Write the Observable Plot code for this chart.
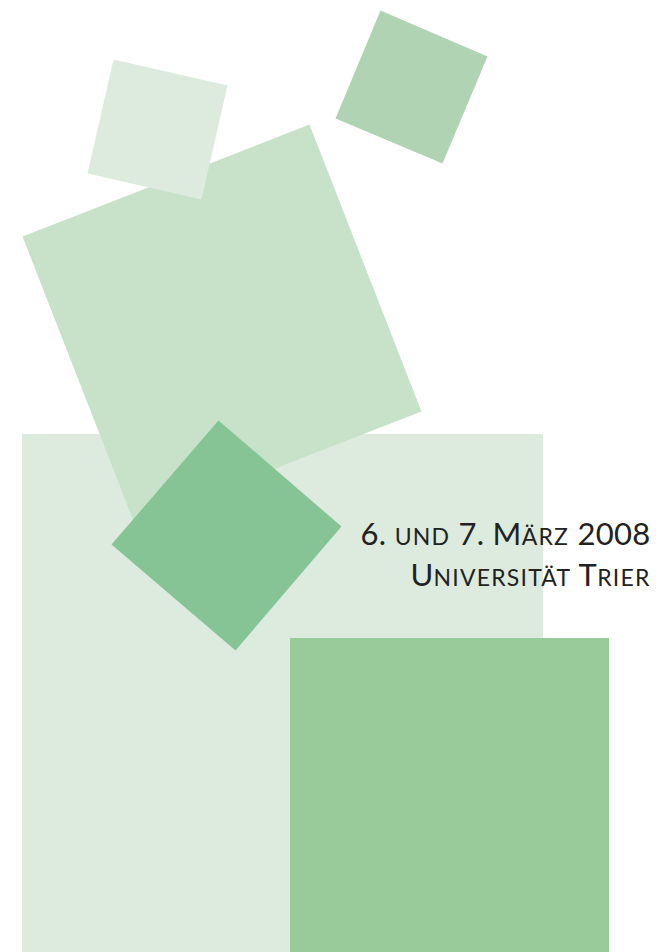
<!DOCTYPE html>
<html>
<head>
<meta charset="utf-8">
<script src="https://cdn.jsdelivr.net/npm/d3@7"></script>
<script src="https://cdn.jsdelivr.net/npm/@observablehq/plot@0.6"></script>
<style>
  html, body { margin: 0; padding: 0; background: #ffffff; }
  svg { display: block; }
</style>
</head>
<body>
<script>
// Axis-aligned rectangles
const rectNames  = ["hell", "dunkel"];
const rectX1     = [22, 290];
const rectX2     = [543, 609];
const rectY1     = [434, 638];
const rectY2     = [952, 952];
const rectColors = ["#DDEBDF", "#99CB9A"];

// Rotated squares: corner points
const squareNames  = ["gross", "klein", "mittel", "raute"];
const squareXs = [
  [22, 309, 421, 134],
  [113, 227, 201, 87],
  [380, 487, 442, 335],
  [218, 341, 235, 111]
];
const squareYs = [
  [236, 124, 411, 523],
  [59, 85, 199, 173],
  [10, 56, 163, 118],
  [420, 526, 650, 544]
];
const squareColors = ["#C7E2C9", "#DDEBDF", "#B0D4B3", "#86C496"];

// Text lines
const textLines = ["6. und 7. März 2008", "Universität Trier"];
const textYs = [535, 576];

const rects = rectNames.map((n, i) => ({name: n, x1: rectX1[i], x2: rectX2[i], y1: rectY1[i], y2: rectY2[i], fill: rectColors[i]}));
const squarePts = (i) => squareXs[i].map((x, j) => ({x, y: squareYs[i][j]}));
const texts = textLines.map((t, i) => ({t, y: textYs[i], x: 650}));

const capSize = 31, smallSize = 23;

const chart = Plot.plot({
  width: 656,
  height: 952,
  margin: 0,
  x: {domain: [0, 656], range: [0, 656], axis: null},
  y: {domain: [0, 952], range: [0, 952], axis: null},
  marks: [
    Plot.rect([rects[0]], {x1: "x1", x2: "x2", y1: "y1", y2: "y2", fill: rects[0].fill}),
    Plot.line(squarePts(0), {x: "x", y: "y", fill: squareColors[0], stroke: "none"}),
    Plot.line(squarePts(1), {x: "x", y: "y", fill: squareColors[1], stroke: "none"}),
    Plot.line(squarePts(2), {x: "x", y: "y", fill: squareColors[2], stroke: "none"}),
    Plot.line(squarePts(3), {x: "x", y: "y", fill: squareColors[3], stroke: "none"}),
    Plot.rect([rects[1]], {x1: "x1", x2: "x2", y1: "y1", y2: "y2", fill: rects[1].fill}),
    Plot.text(texts, {x: "x", y: "y", text: "t", textAnchor: "end", lineAnchor: "middle",
      fontSize: capSize, fontFamily: "Lato", fill: "#222222"})
  ]
});

// Small caps: lowercase letters drawn as smaller capitals
d3.select(chart).selectAll('g[aria-label="text"] text').each(function() {
  const el = d3.select(this);
  const s = this.textContent;
  const runs = [];
  for (const ch of s) {
    const lower = ch !== ch.toUpperCase();
    const last = runs[runs.length - 1];
    if (last && last.lower === lower) last.text += ch;
    else runs.push({lower, text: ch});
  }
  el.text(null);
  for (const r of runs) {
    el.append("tspan")
      .attr("font-size", r.lower ? smallSize : capSize)
      .attr("letter-spacing", r.lower ? "1.2" : "0.3")
      .text(r.text.toUpperCase());
  }
});

document.body.appendChild(chart);
</script>
</body>
</html>
